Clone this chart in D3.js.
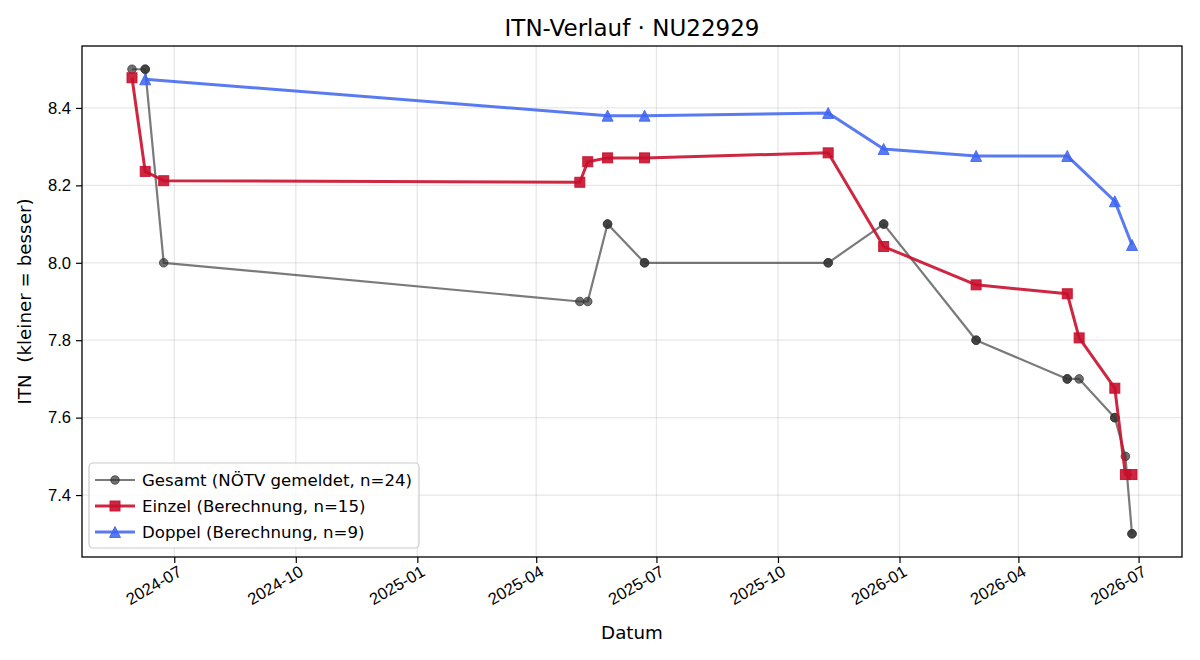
<!DOCTYPE html>
<html>
<head>
<meta charset="utf-8">
<script src="https://cdn.jsdelivr.net/npm/d3@7"></script>
<style>
  body { margin: 0; background: #fff; }
  svg { font-family: "DejaVu Sans", sans-serif; }
</style>
</head>
<body>
<div id="chart"></div>
<script>
// data
const gesamtDates = ["2024-05-30","2024-06-09","2024-06-09","2024-06-23","2025-05-04","2025-05-10",
  "2025-05-25","2025-05-25","2025-06-22","2025-06-22","2025-11-08","2025-11-08","2025-12-20","2025-12-20",
  "2026-02-28","2026-02-28","2026-05-08","2026-05-08","2026-05-17","2026-06-13","2026-06-13","2026-06-21",
  "2026-06-26","2026-06-26"];
const gesamtValues = [8.5, 8.5, 8.5, 8.0, 7.9, 7.9, 8.1, 8.1, 8.0, 8.0, 8.0, 8.0, 8.1, 8.1,
  7.8, 7.8, 7.7, 7.7, 7.7, 7.6, 7.6, 7.5, 7.3, 7.3];

const einzelDates = ["2024-05-30","2024-06-09","2024-06-23","2025-05-04","2025-05-10","2025-05-25",
  "2025-06-22","2025-11-08","2025-12-20","2026-02-28","2026-05-08","2026-05-17","2026-06-13","2026-06-21","2026-06-26"];
const einzelValues = [8.478, 8.236, 8.212, 8.208, 8.261, 8.271, 8.271, 8.284, 8.042, 7.943, 7.920, 7.806, 7.676, 7.453, 7.453];

const doppelDates = ["2024-06-09","2025-05-25","2025-06-22","2025-11-08","2025-12-20","2026-02-28",
  "2026-05-08","2026-06-13","2026-06-26"];
const doppelValues = [8.474, 8.380, 8.380, 8.387, 8.294, 8.276, 8.276, 8.159, 8.046];

const yTicks = [7.4, 7.6, 7.8, 8.0, 8.2, 8.4];

const title = "ITN-Verlauf · NU22929";
const xLabel = "Datum";
const yLabel = "ITN  (kleiner = besser)";

const parse = d3.timeParse("%Y-%m-%d");
const zip = (ds, vs) => ds.map((d, i) => ({date: parse(d), value: vs[i]}));

const series = [
  {name: "Gesamt (NÖTV gemeldet, n=24)", data: zip(gesamtDates, gesamtValues), shape: "circle",
   color: "#333333", lineOpacity: 0.65, markOpacity: 0.7, lw: 2.2, size: 4.3},
  {name: "Einzel (Berechnung, n=15)", data: zip(einzelDates, einzelValues), shape: "square",
   color: "#c8102e", lineOpacity: 0.9, markOpacity: 0.9, lw: 3, size: 5},
  {name: "Doppel (Berechnung, n=9)", data: zip(doppelDates, doppelValues), shape: "triangle",
   color: "#3d63f0", lineOpacity: 0.85, markOpacity: 0.85, lw: 3, size: 5.5}
];

const W = 1200, H = 660;
const margin = {top: 46, right: 18, bottom: 103, left: 82};
const width = W - margin.left - margin.right;
const height = H - margin.top - margin.bottom;

const svg = d3.select("#chart").append("svg")
  .attr("width", W).attr("height", H);

// matplotlib-style 5% padding
const all = series.flatMap(s => s.data);
const [x0, x1] = d3.extent(all, d => d.date);
const xpad = (x1 - x0) * 0.05;
const x = d3.scaleTime()
  .domain([new Date(+x0 - xpad), new Date(+x1 + xpad)])
  .range([0, width]);
const [y0, y1] = d3.extent(all, d => d.value);
const ypad = (y1 - y0) * 0.05;
const y = d3.scaleLinear()
  .domain([y0 - ypad, y1 + ypad])
  .range([height, 0]);

const g = svg.append("g").attr("transform", "translate(" + margin.left + "," + margin.top + ")");

const xTicks = d3.timeMonth.every(3).range(x.domain()[0], x.domain()[1]);

// grid
g.append("g").selectAll("line").data(xTicks).join("line")
  .attr("x1", d => x(d)).attr("x2", d => x(d))
  .attr("y1", 0).attr("y2", height)
  .attr("stroke", "#b0b0b0").attr("stroke-opacity", 0.3).attr("stroke-width", 1.3);
g.append("g").selectAll("line").data(yTicks).join("line")
  .attr("x1", 0).attr("x2", width)
  .attr("y1", d => y(d)).attr("y2", d => y(d))
  .attr("stroke", "#b0b0b0").attr("stroke-opacity", 0.3).attr("stroke-width", 1.3);

// axes
const xAxis = g.append("g").attr("transform", "translate(0," + height + ")")
  .call(d3.axisBottom(x).tickValues(xTicks).tickFormat(d3.timeFormat("%Y-%m")).tickSize(6).tickPadding(0));
xAxis.select(".domain").remove();
xAxis.selectAll("line").attr("stroke", "#000").attr("stroke-width", 1.2);
xAxis.selectAll("text")
  .attr("font-size", "16.6px").attr("fill", "#000")
  .attr("text-anchor", "end")
  .attr("y", 0).attr("dy", "0.76em")
  .attr("transform", "translate(2,7) rotate(-30)");

const yAxis = g.append("g")
  .call(d3.axisLeft(y).tickValues(yTicks).tickFormat(d3.format(".1f")).tickSize(6).tickPadding(5));
yAxis.select(".domain").remove();
yAxis.selectAll("line").attr("stroke", "#000").attr("stroke-width", 1.2);
yAxis.selectAll("text").attr("font-size", "16.6px").attr("fill", "#000");

// symbols
function mark(sel, shape, size) {
  if (shape === "circle") {
    sel.append("circle").attr("r", size);
  } else if (shape === "square") {
    sel.append("rect").attr("x", -size).attr("y", -size).attr("width", 2 * size).attr("height", 2 * size);
  } else {
    sel.append("path").attr("d", "M0," + (-size) + "L" + size + "," + size + "L" + (-size) + "," + size + "Z");
  }
}

const line = d3.line().x(d => x(d.date)).y(d => y(d.value));

series.forEach(s => {
  const sg = g.append("g");
  sg.append("path").datum(s.data)
    .attr("fill", "none")
    .attr("stroke", s.color).attr("stroke-opacity", s.lineOpacity)
    .attr("stroke-width", s.lw).attr("stroke-linejoin", "round")
    .attr("d", line);
  sg.selectAll("g.pt").data(s.data).join("g").attr("class", "pt")
    .attr("transform", d => "translate(" + x(d.date) + "," + y(d.value) + ")")
    .each(function () { mark(d3.select(this), s.shape, s.size); })
    .selectAll("*")
    .attr("fill", s.color).attr("fill-opacity", s.markOpacity)
    .attr("stroke", s.color).attr("stroke-opacity", s.markOpacity).attr("stroke-width", 1);
});

// frame
g.append("rect").attr("width", width).attr("height", height)
  .attr("fill", "none").attr("stroke", "#000").attr("stroke-width", 1.3);

// legend
const lg = g.append("g").attr("transform", "translate(7," + (height - 94) + ")");
lg.append("rect").attr("width", 330).attr("height", 85).attr("rx", 4)
  .attr("fill", "#fff").attr("fill-opacity", 0.8)
  .attr("stroke", "#ccc").attr("stroke-width", 1.2);
series.forEach((s, i) => {
  const row = lg.append("g").attr("transform", "translate(0," + (17 + i * 26) + ")");
  row.append("line").attr("x1", 6).attr("x2", 46)
    .attr("stroke", s.color).attr("stroke-opacity", s.lineOpacity).attr("stroke-width", s.lw);
  const m = row.append("g").attr("transform", "translate(26,0)");
  mark(m, s.shape, s.size);
  m.selectAll("*").attr("fill", s.color).attr("fill-opacity", s.markOpacity)
    .attr("stroke", s.color).attr("stroke-opacity", s.markOpacity);
  row.append("text").attr("x", 53).attr("dy", "0.35em")
    .attr("font-size", "16.6px").text(s.name);
});

// title & labels
svg.append("text").attr("x", margin.left + width / 2).attr("y", 36)
  .attr("text-anchor", "middle").attr("font-size", "23px").text(title);
svg.append("text").attr("x", margin.left + width / 2).attr("y", 639)
  .attr("text-anchor", "middle").attr("font-size", "18.3px").text(xLabel);
svg.append("text").attr("transform", "translate(31," + (margin.top + height / 2) + ") rotate(-90)")
  .attr("text-anchor", "middle").attr("font-size", "18.3px").attr("xml:space", "preserve")
  .style("white-space", "pre").text(yLabel);
</script>
</body>
</html>
